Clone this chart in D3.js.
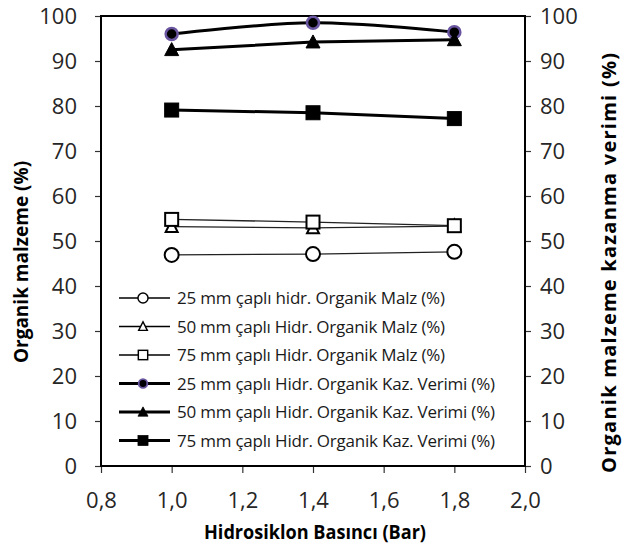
<!DOCTYPE html>
<html lang="tr">
<head>
<meta charset="UTF-8">
<script src="https://d3js.org/d3.v7.min.js"></script>
<style>
  body { margin: 0; background: #fff; }
  text { font-family: "Open Sans", "DejaVu Sans", sans-serif; }
</style>
</head>
<body>
<svg id="chart" width="622" height="550"></svg>
<script>
// data
const pressures = [1.0, 1.4, 1.8];
const malz25 = [46.9, 47.1, 47.6];
const malz50 = [53.2, 52.9, 53.3];
const malz75 = [54.8, 54.2, 53.4];
const kaz25 = [96.0, 98.5, 96.4];
const kaz50 = [92.5, 94.2, 94.7];
const kaz75 = [79.1, 78.5, 77.2];
const xTicks = [0.8, 1.0, 1.2, 1.4, 1.6, 1.8, 2.0];
const yTicks = [0, 10, 20, 30, 40, 50, 60, 70, 80, 90, 100];

const seriesNames = [
  "25 mm çaplı hidr. Organik Malz (%)",
  "50 mm çaplı Hidr. Organik Malz (%)",
  "75 mm çaplı Hidr. Organik Malz (%)",
  "25 mm çaplı Hidr. Organik Kaz. Verimi (%)",
  "50 mm çaplı Hidr. Organik Kaz. Verimi (%)",
  "75 mm çaplı Hidr. Organik Kaz. Verimi (%)"
];

const series = [
  { name: seriesNames[0], values: malz25, shape: "circle", filled: false, thick: false },
  { name: seriesNames[1], values: malz50, shape: "triangle", filled: false, thick: false },
  { name: seriesNames[2], values: malz75, shape: "square", filled: false, thick: false },
  { name: seriesNames[3], values: kaz25, shape: "dot", filled: true, thick: true, smooth: true },
  { name: seriesNames[4], values: kaz50, shape: "triangle", filled: true, thick: true },
  { name: seriesNames[5], values: kaz75, shape: "square", filled: true, thick: true }
];

const svg = d3.select("#chart");
const mLeft = 101, mRight = 525, mTop = 16, mBottom = 466;

const x = d3.scaleLinear().domain([0.8, 2.0]).range([mLeft, mRight]);
const y = d3.scaleLinear().domain([0, 100]).range([mBottom, mTop]);

// axes
const fmt = d => d3.format(".1f")(d).replace(".", ",");

const gx = svg.append("g").attr("transform", `translate(0,${mBottom})`)
  .call(d3.axisBottom(x).tickValues(xTicks).tickFormat(fmt).tickSize(7).tickPadding(19));
const gl = svg.append("g").attr("transform", `translate(${mLeft},0)`)
  .call(d3.axisLeft(y).tickValues(yTicks).tickSize(6).tickPadding(18));
const gr = svg.append("g").attr("transform", `translate(${mRight},0)`)
  .call(d3.axisRight(y).tickValues(yTicks).tickSize(6).tickPadding(9));

[gx, gl, gr].forEach(g => {
  g.selectAll("text").style("font-size", "22px").attr("fill", "#262626");
  g.selectAll("line").attr("stroke", "#333").attr("stroke-width", 1.2);
  g.select(".domain").remove();
});
gl.selectAll("text").attr("dy", "0.36em");
gr.selectAll("text").attr("dy", "0.36em");

// plot frame
svg.append("rect")
  .attr("x", mLeft).attr("y", mTop)
  .attr("width", mRight - mLeft).attr("height", mBottom - mTop)
  .attr("fill", "none").attr("stroke", "#000").attr("stroke-width", 2);

// axis titles
svg.append("text")
  .attr("transform", "translate(28,262) rotate(-90)")
  .attr("text-anchor", "middle").style("font-size", "19px").style("font-weight", "bold")
  .text("Organik malzeme (%)");
svg.append("text")
  .attr("transform", "translate(616,263) rotate(-90)")
  .attr("text-anchor", "middle").style("font-size", "20px").style("font-weight", "bold")
  .attr("textLength", 420).attr("lengthAdjust", "spacing")
  .text("Organik malzeme kazanma verimi (%)");
svg.append("text")
  .attr("x", 315).attr("y", 539)
  .attr("text-anchor", "middle").style("font-size", "20px").style("font-weight", "bold")
  .attr("textLength", 222).attr("lengthAdjust", "spacingAndGlyphs")
  .text("Hidrosiklon Basıncı (Bar)");

// marker drawing
function marker(g, s, cx, cy) {
  const sw = s.filled ? 1 : 2;
  if (s.shape === "circle") {
    g.append("circle").attr("cx", cx).attr("cy", cy).attr("r", 7)
      .attr("fill", "#fff").attr("stroke", "#000").attr("stroke-width", sw);
  } else if (s.shape === "dot") {
    g.append("circle").attr("cx", cx).attr("cy", cy).attr("r", 6)
      .attr("fill", "#000").attr("stroke", "#6a55a0").attr("stroke-width", 2.5);
  } else if (s.shape === "triangle") {
    const h = s.filled ? 13 : 12, w = s.filled ? 14 : 12;
    g.append("path")
      .attr("d", `M${cx},${cy - h * 0.55} L${cx + w / 2},${cy + h * 0.45} L${cx - w / 2},${cy + h * 0.45} Z`)
      .attr("fill", s.filled ? "#000" : "#fff").attr("stroke", "#000").attr("stroke-width", sw);
  } else {
    const a = s.filled ? 14 : 13;
    g.append("rect").attr("x", cx - a / 2).attr("y", cy - a / 2).attr("width", a).attr("height", a)
      .attr("fill", s.filled ? "#000" : "#fff").attr("stroke", "#000").attr("stroke-width", sw);
  }
}

// lines and markers
series.forEach(s => {
  const pts = pressures.map((p, i) => [x(p), y(s.values[i])]);
  const line = d3.line().curve(s.smooth ? d3.curveCatmullRom.alpha(0.5) : d3.curveLinear);
  svg.append("path").attr("d", line(pts)).attr("fill", "none")
    .attr("stroke", s.thick ? "#000" : "#222").attr("stroke-width", s.thick ? 3 : 1.3);
});
series.forEach(s => {
  const g = svg.append("g");
  pressures.forEach((p, i) => marker(g, s, x(p), y(s.values[i])));
});

// legend
const legend = svg.append("g");
series.forEach((s, i) => {
  const ly = 298 + i * 28.5;
  legend.append("line").attr("x1", 119).attr("x2", 170).attr("y1", ly).attr("y2", ly)
    .attr("stroke", "#000").attr("stroke-width", s.thick ? 3 : 1.3);
  const g = legend.append("g").attr("transform", `translate(143,${ly}) scale(0.72) translate(-143,${-ly})`);
  marker(g, s, 143, ly);
  legend.append("text").attr("x", 177).attr("y", ly).attr("dy", "0.36em")
    .style("font-size", "17px").attr("fill", "#1a1a1a")
    .attr("textLength", s.thick ? 318 : 268).attr("lengthAdjust", "spacing")
    .text(s.name);
});
</script>
</body>
</html>
